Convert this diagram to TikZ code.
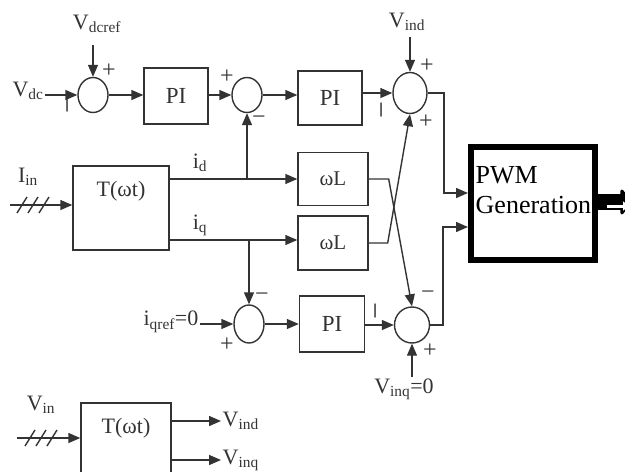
\documentclass[tikz,border=0pt]{standalone}
\usepackage{fontspec}
\setmainfont{Liberation Serif}
\usetikzlibrary{arrows.meta, shapes.geometric}

\begin{document}
\begin{tikzpicture}[
  x=1pt, y=-1pt,
  line width=1.4pt, color=black!80,
  arr/.style={-{Triangle[length=12pt, width=10pt]}},
  sumpt/.style={draw, ellipse, inner sep=0pt, minimum width=30pt, minimum height=35pt},
  blk/.style={draw, rectangle, inner sep=0pt, font=\fontsize{23}{25}\selectfont},
  wlblk/.style={blk, minimum width=70pt, font=\fontsize{21}{23}\selectfont},
  tlbl/.style={anchor=north, inner sep=0pt, yshift=-15pt, font=\fontsize{22}{24}\selectfont},
  lbl/.style={inner sep=1pt, font=\fontsize{22}{24}\selectfont},
  sgn/.style={inner sep=0pt, font=\fontsize{24}{26}\selectfont},
  vsgn/.style={sgn, rotate=90, font=\fontsize{30}{32}\selectfont},
  pwmtxt/.style={anchor=base west, inner sep=0pt, text=black, font=\fontsize{26}{30}\selectfont}
]

\useasboundingbox (0,0) rectangle (625,472);

%% ── dc-voltage loop (top row) ────────────────────────────────────────────────
\node[lbl] (vdcref) at (97,24) {V\textsubscript{dcref}};
\node[lbl] (vdc) at (28,91) {V\textsubscript{dc}};
\node[sumpt] (s1) at (93,95) {};
\node[blk, minimum width=64pt, minimum height=56pt] (pi1) at (176,96) {PI};
\node[sumpt] (s2) at (247,95) {};
\node[blk, minimum width=64pt, minimum height=54pt] (pi2) at (330,98) {PI};
\node[sumpt, minimum width=34pt, minimum height=41pt] (s3) at (410,93) {};
\node[lbl] (vind) at (407,22) {V\textsubscript{ind}};

\draw[arr] (vdcref.south -| s1) ++(0,10) -- (s1.north);
\draw[arr] (vdc.east |- s1) -- (s1.west);
\draw[arr] (s1.east) -- (pi1.west |- s1);
\draw[arr] (pi1.east |- s2) -- (s2.west);
\draw[arr] (s2.east) -- (pi2.west |- s2);
\draw[arr] (pi2.east |- s3) -- (s3.west);
\draw[arr] (vind.south -| s3) ++(0,4) -- (s3.north);

%% ── abc -> dq transform of current ───────────────────────────────────────────
\node[blk, minimum width=96pt, minimum height=84pt,
  label={[tlbl]north:T(ωt)}] (tr1) at (121,208) {};
\node[lbl] (iin) at (28,177) {I\textsubscript{in}};
\coordinate (iinst) at (10,205);
\coordinate (idout) at (169,179);
\coordinate (iqout) at (169,240);
\node[lbl] (id) at (200,163) {i\textsubscript{d}};
\node[lbl] (iq) at (200,225) {i\textsubscript{q}};
\node[wlblk, minimum height=53pt] (wl1) at (333,179) {ωL};
\node[wlblk, minimum height=54pt] (wl2) at (333,243) {ωL};

\draw[arr] (iinst) -- (iinst -| tr1.west);
\foreach \sx in {22,33,44} {
  \draw (\sx-5,213) -- (\sx+5,197);
}
\draw[arr] (idout) -- (idout -| wl1.west);
\draw[arr] (iqout) -- (iqout -| wl2.west);
\draw[arr] (s2 |- idout) -- (s2.south);

%% ── q-axis loop (bottom row) ─────────────────────────────────────────────────
\node[lbl] (iqref) at (171,322) {i\textsubscript{qref}=0};
\node[sumpt, minimum height=38pt] (s4) at (249,324) {};
\node[blk, minimum width=65pt, minimum height=56pt] (pi3) at (332,324) {PI};
\node[sumpt, minimum width=35pt, minimum height=36pt] (s5) at (412,325) {};
\node[lbl] (vinq) at (404,389) {V\textsubscript{inq}=0};

\draw[arr] (s4 |- iqout) -- (s4.north);
\draw[arr] (iqref.east |- s4) -- (s4.west);
\draw[arr] (s4.east) -- (pi3.west |- s4);
\draw[arr] (pi3.east |- s5) -- (s5.west);
\draw[arr] (vinq.north -| s5) -- (s5.south);

%% ── cross coupling ───────────────────────────────────────────────────────────
\draw[arr] (wl1.east) -- ++(20,0) -- (s5.north);
\draw[arr] (wl2.east) -- ++(19,0) -- (s3.south);

%% ── PWM block ────────────────────────────────────────────────────────────────
\node[pwmtxt] (pwm1) at (475,183) {PWM};
\node[pwmtxt] (pwm2) at (475,213) {Generation};
\node[draw=black, line width=6pt, minimum width=124pt, minimum height=113pt] (pwm) at (533,203.5) {};

\draw[arr] (s3.east) -| (444,193) -- ([yshift=10.5pt]pwm.west);
\draw[arr] (s5.east) -| (443,227) -- ([yshift=-23.5pt]pwm.west);

\coordinate (pwmout) at (632,202);
\draw[black, line width=16pt, -{Triangle[length=12pt, width=30pt, round]}] (pwm.east |- pwmout) -- (pwmout);
\draw[white, line width=3pt, -{Triangle[length=6pt, width=9pt]}] ([xshift=9pt, yshift=-4pt]pwm.east |- pwmout) -- ++(22,0);

%% ── summing signs ────────────────────────────────────────────────────────────
\node[sgn] (p1) at (109,71) {+};
\node[vsgn] (m1) at (72,105) {−};
\node[sgn] (p2) at (227,77) {+};
\node[sgn] (m2) at (259,120) {−};
\node[sgn] (p3a) at (427,66) {+};
\node[vsgn] (m3) at (386,110) {−};
\node[sgn] (p3b) at (426,122) {+};
\node[sgn] (m4) at (262,297) {−};
\node[sgn] (p4) at (227,345) {+};
\node[vsgn] (m5) at (380,311) {−};
\node[sgn] (m5b) at (428,295) {−};
\node[sgn] (p5) at (430,351) {+};

%% ── abc -> dq transform of voltage ───────────────────────────────────────────
\node[blk, minimum width=90pt, minimum height=90pt,
  label={[tlbl]north:T(ωt)}] (tr2) at (126,448) {};
\node[lbl] (vin) at (41,405) {V\textsubscript{in}};
\coordinate (vinst) at (17,438);
\node[lbl, anchor=west] (vind2) at (221,421) {V\textsubscript{ind}};
\node[lbl, anchor=west] (vinq2) at (221,460) {V\textsubscript{inq}};

\draw[arr] (vinst) -- (vinst -| tr2.west);
\foreach \sx in {30,41,52} {
  \draw (\sx-5,446) -- (\sx+5,430);
}
\draw[arr] (tr2.east |- vind2.west) -- (vind2.west);
\draw[arr] (tr2.east |- vinq2.west) -- (vinq2.west);

\end{tikzpicture}
\end{document}
